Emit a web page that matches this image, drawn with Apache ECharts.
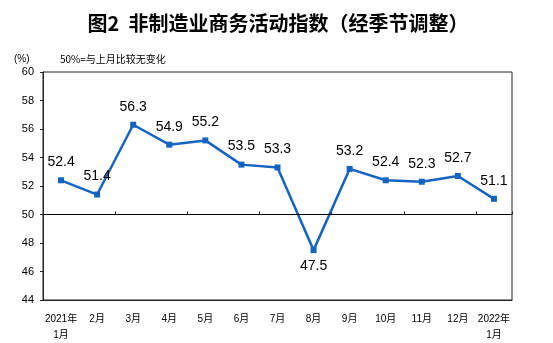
<!DOCTYPE html>
<html><head><meta charset="utf-8">
<script src="https://cdn.jsdelivr.net/npm/echarts@6/dist/echarts.min.js"></script>
<style>html,body{margin:0;padding:0;background:#fff}#c{width:553px;height:343px}</style>
</head><body><div id="c"></div>
<script>
var categories = ['2021年\n1月','2月','3月','4月','5月','6月','7月','8月','9月','10月','11月','12月','2022年\n1月'];
var values = [52.4, 51.4, 56.3, 54.9, 55.2, 53.5, 53.3, 47.5, 53.2, 52.4, 52.3, 52.7, 51.1];
var yTicks = [44, 46, 48, 50, 52, 54, 56, 58, 60];
var titleText = '图2  非制造业商务活动指数（经季节调整）';
var unitText = '(%)';
var noteText = '50%=与上月比较无变化';
var baseline = 50;

var chart = echarts.init(document.getElementById('c'), null, {renderer:'canvas'});
var font = 'Liberation Sans, Arial, Noto Sans CJK SC, sans-serif';
var data = values.map(function(v){
  if (v < baseline) return {value: v, label: {position: 'bottom', distance: 6}};
  return v;
});
chart.setOption({
  animation: false,
  backgroundColor: '#fff',
  title: [
    {text: titleText, left: 273, textAlign: 'center', top: 8, textStyle: {fontSize: 20, fontWeight: 'bold', color: '#000', fontFamily: 'Noto Sans CJK SC, sans-serif'}},
    {text: unitText, left: 9, top: 49, textStyle: {fontSize: 10, fontWeight: 'normal', color: '#000', fontFamily: font}},
    {text: noteText, left: 55, top: 49, textStyle: {fontSize: 10, fontWeight: 'normal', color: '#000', fontFamily: 'Noto Sans CJK SC, sans-serif'}}
  ],
  grid: {left: 43, right: 41, top: 72, bottom: 43, show: true, borderColor: '#222', borderWidth: 1, backgroundColor: 'transparent'},
  xAxis: [
    {type: 'category', data: categories, boundaryGap: true, position: 'bottom',
     axisLine: {show: true, lineStyle: {color: '#222'}}, axisTick: {show: false},
     axisLabel: {interval: 0, fontSize: 10, color: '#000', margin: 11, lineHeight: 16, fontFamily: font}},
    {type: 'category', data: categories, boundaryGap: true, position: 'bottom', offset: -85.5,
     axisLine: {show: false}, axisTick: {show: true, inside: true, length: 3, lineStyle: {color: '#222'}},
     axisLabel: {show: false}}
  ],
  yAxis: {type: 'value', min: yTicks[0], max: yTicks[yTicks.length-1], interval: 2,
    axisLine: {show: true, lineStyle: {color: '#222'}},
    axisTick: {show: true, length: 3, lineStyle: {color: '#222'}},
    splitLine: {show: false},
    axisLabel: {fontSize: 11, color: '#000', margin: 9, fontFamily: font}},
  series: [{
    type: 'line', data: data, xAxisIndex: 0,
    symbol: 'rect', symbolSize: 6,
    lineStyle: {color: '#1565c0', width: 2.5},
    itemStyle: {color: '#1565c0'},
    label: {show: true, position: 'top', distance: 8, fontSize: 14, color: '#000', fontFamily: font,
      formatter: function(p){return Number(p.value).toFixed(1);}},
    markLine: {silent: true, symbol: 'none', label: {show: false},
      lineStyle: {color: '#000', width: 1, type: 'solid'},
      data: [{yAxis: baseline}]},
    z: 3
  }]
});
</script></body></html>
